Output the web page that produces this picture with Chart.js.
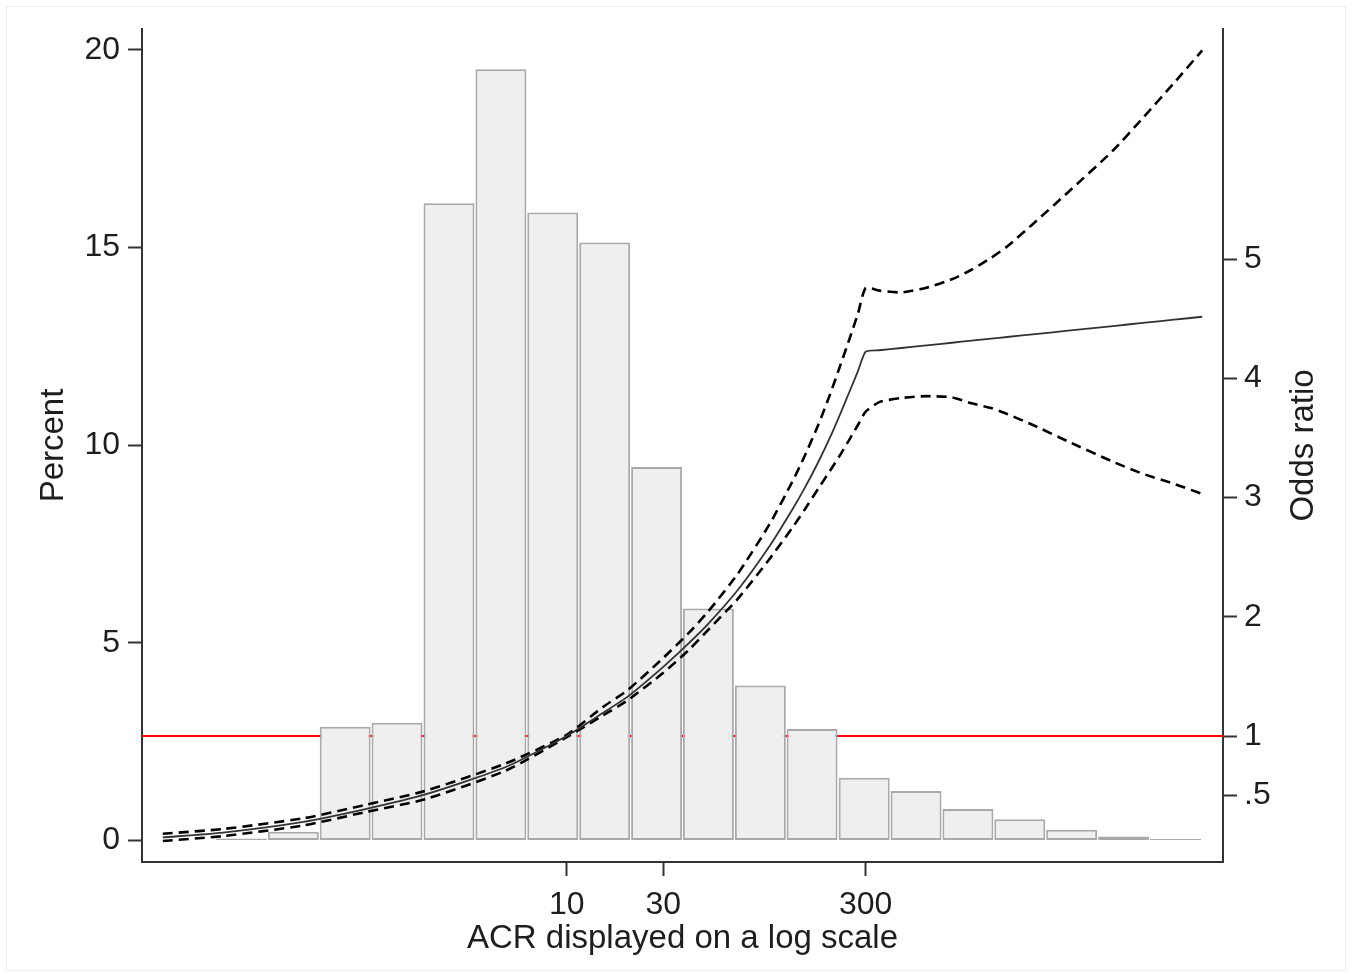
<!DOCTYPE html>
<html>
<head>
<meta charset="utf-8">
<script src="https://cdn.jsdelivr.net/npm/chart.js@4/dist/chart.umd.min.js"></script>
<style>
  html, body { margin: 0; padding: 0; background: #ffffff; }
  canvas { display: block; }
</style>
</head>
<body>
<canvas id="c" width="1352" height="977"></canvas>
<script>
// ---------- data ----------
// histogram bins (bin centres, ACR) and percent of sample in each bin
const binCenters = [0.137, 0.247, 0.446, 0.804, 1.45, 2.62, 4.73, 8.53, 15.4, 27.8,
                    50.1, 90.5, 163, 295, 532, 960, 1732, 3125, 5640, 10180];
const percent    = [0.02, 0.05, 0.22, 2.88, 2.98, 16.12, 19.51, 15.89, 15.13, 9.45,
                    5.87, 3.92, 2.82, 1.59, 1.25, 0.80, 0.54, 0.27, 0.10, 0.04];

// odds ratio curve and its 95% confidence band, read at these ACR values
const acr       = [0.101, 0.2, 0.5, 1, 2, 5, 10, 15, 20, 30, 40, 50, 70, 100, 130, 150, 175, 200, 225, 250, 275, 300,
                   350, 450, 600, 800, 1000, 1250, 1500, 2000, 3000, 5000, 7000, 10000, 13800];
const oddsRatio = [0.15, 0.19, 0.28, 0.385, 0.51, 0.74, 1.00, 1.19, 1.33, 1.58, 1.776, 1.94, 2.224, 2.587, 2.898, 3.081, 3.298, 3.504, 3.704, 3.891, 4.062, 4.223,
                   4.235, 4.254, 4.276, 4.298, 4.315, 4.332, 4.346, 4.368, 4.399, 4.438, 4.464, 4.491, 4.516];
const ciUpper   = [0.18, 0.22, 0.31, 0.42, 0.54, 0.77, 1.01, 1.24, 1.385, 1.655, 1.863, 2.044, 2.36, 2.77, 3.13, 3.35, 3.61, 3.865, 4.11, 4.335, 4.545, 4.757,
                   4.735, 4.72, 4.76, 4.83, 4.91, 5.01, 5.105, 5.29, 5.56, 5.91, 6.18, 6.475, 6.75];
const ciLower   = [0.12, 0.16, 0.25, 0.36, 0.47, 0.71, 0.99, 1.17, 1.30, 1.53, 1.72, 1.89, 2.15, 2.48, 2.745, 2.90, 3.075, 3.225, 3.36, 3.49, 3.61, 3.72,
                   3.80, 3.835, 3.85, 3.84, 3.79, 3.75, 3.70, 3.61, 3.47, 3.30, 3.20, 3.115, 3.03];
const referenceOR = 1;

// axes
const xTicks       = [10, 30, 300];
const pctTicks     = [0, 5, 10, 15, 20];
const orTicks      = [0.5, 1, 2, 3, 4, 5];
const orTickLabels = ['.5', '1', '2', '3', '4', '5'];
const xRange   = [0.0797, 17480];
const pctRange = [-0.544, 20.531];
const orRange  = [-0.0566, 6.929];

const xTitle   = 'ACR displayed on a log scale';
const yTitle   = 'Percent';
const y2Title  = 'Odds ratio';

// ---------- chart ----------
const FONT = '"Liberation Sans", Arial, Helvetica, sans-serif';
const TXT = '#1e1e1e';
const AX = '#333333';

const framePlugin = {
  id: 'frame',
  beforeDraw(chart) {
    const c = chart.ctx;
    c.save();
    c.fillStyle = '#ffffff';
    c.fillRect(0, 0, chart.width, chart.height);
    c.strokeStyle = '#ededed';
    c.lineWidth = 1;
    c.strokeRect(6.5, 6.5, chart.width - 13, chart.height - 13);
    c.restore();
  }
};

const rightTitlePlugin = {
  id: 'rightTitle',
  afterDraw(chart) {
    const a = chart.chartArea;
    const c = chart.ctx;
    c.save();
    c.translate(a.right + 81, (a.top + a.bottom) / 2);
    c.rotate(-Math.PI / 2);
    c.font = '33px ' + FONT;
    c.fillStyle = TXT;
    c.textAlign = 'center';
    c.textBaseline = 'middle';
    c.fillText(y2Title, 0, 0);
    c.restore();
  }
};

const gridOpts = {
  display: true,
  offset: false,
  drawOnChartArea: false,
  drawTicks: true,
  tickLength: 14,
  tickColor: AX,
  tickWidth: 2
};
const borderOpts = { display: true, color: AX, width: 2 };
const tickFont = { family: FONT, size: 32 };

const lineCommon = { yAxisID: 'y2', order: 0, pointRadius: 0, fill: false,
                     cubicInterpolationMode: 'default', tension: 0.2 };

new Chart(document.getElementById('c'), {
  type: 'bar',
  data: {
    datasets: [
      Object.assign({
        type: 'line', label: 'Odds ratio',
        data: acr.map((x, i) => ({ x: x, y: oddsRatio[i] })),
        borderColor: '#333333', borderWidth: 1.8
      }, lineCommon),
      Object.assign({
        type: 'line', label: 'Upper 95% CI',
        data: acr.map((x, i) => ({ x: x, y: ciUpper[i] })),
        borderColor: '#000000', borderWidth: 2.6, borderDash: [10, 6]
      }, lineCommon),
      Object.assign({
        type: 'line', label: 'Lower 95% CI',
        data: acr.map((x, i) => ({ x: x, y: ciLower[i] })),
        borderColor: '#000000', borderWidth: 2.6, borderDash: [10, 6]
      }, lineCommon),
      {
        type: 'bar', label: 'Percent', yAxisID: 'y', order: 1,
        data: binCenters.map((x, i) => ({ x: x, y: percent[i] })),
        backgroundColor: '#efefef', borderColor: '#a9a9a9', borderWidth: 2,
        borderSkipped: false, barPercentage: 0.985, categoryPercentage: 1
      },
      {
        type: 'line', label: 'Reference', yAxisID: 'y2', order: 2,
        data: [{ x: xRange[0], y: referenceOR }, { x: xRange[1], y: referenceOR }],
        borderColor: '#ff0000', borderWidth: 2, pointRadius: 0, fill: false
      }
    ]
  },
  options: {
    responsive: false,
    animation: false,
    devicePixelRatio: 1,
    layout: { padding: { top: 29, left: 0, right: 0, bottom: 0 } },
    plugins: { legend: { display: false }, tooltip: { enabled: false } },
    scales: {
      x: {
        type: 'logarithmic', position: 'bottom',
        min: xRange[0], max: xRange[1], offset: false,
        afterFit: s => { s.height = 115; },
        afterBuildTicks: s => { s.ticks = xTicks.map(v => ({ value: v })); },
        ticks: { callback: v => String(v), autoSkip: false, maxRotation: 0, minRotation: 0,
                 padding: 10, font: tickFont, color: TXT },
        grid: gridOpts, border: borderOpts,
        title: { display: true, text: xTitle, color: TXT,
                 font: { family: FONT, size: 33 }, padding: { top: 0, bottom: 18 } }
      },
      y: {
        type: 'linear', position: 'left',
        min: pctRange[0], max: pctRange[1],
        afterFit: s => { s.width = 142; },
        afterBuildTicks: s => { s.ticks = pctTicks.map(v => ({ value: v })); },
        ticks: { callback: v => String(v), padding: 8, font: tickFont, color: TXT },
        grid: gridOpts, border: borderOpts,
        title: { display: true, text: yTitle, color: TXT,
                 font: { family: FONT, size: 33 }, padding: { top: 34.5, bottom: 0 } }
      },
      y2: {
        type: 'linear', position: 'right',
        min: orRange[0], max: orRange[1],
        afterFit: s => { s.width = 129; },
        afterBuildTicks: s => { s.ticks = orTicks.map(v => ({ value: v })); },
        ticks: { callback: v => { const k = orTicks.indexOf(v); return k >= 0 ? orTickLabels[k] : ''; },
                 padding: 7, font: tickFont, color: TXT },
        grid: gridOpts, border: borderOpts,
        title: { display: false }
      }
    }
  },
  plugins: [framePlugin, rightTitlePlugin]
});
</script>
</body>
</html>
